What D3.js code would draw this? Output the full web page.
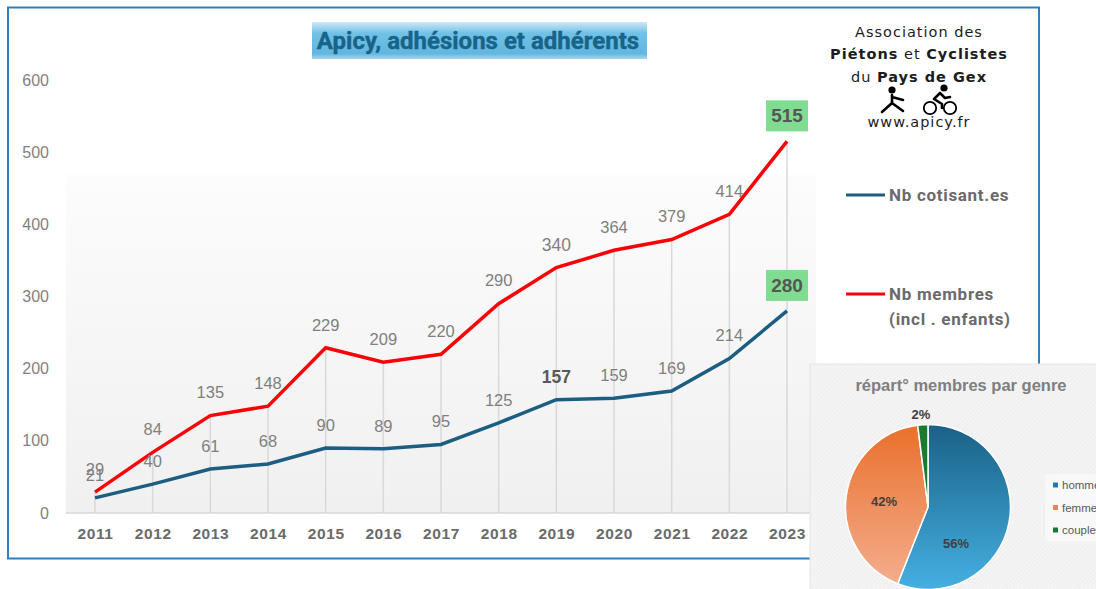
<!DOCTYPE html>
<html>
<head>
<meta charset="utf-8">
<script src="https://cdn.jsdelivr.net/npm/d3@7"></script>
<style>
html, body { margin: 0; padding: 0; background: #fff; overflow: hidden; }
svg { display: block; }
text { font-family: "Liberation Sans", sans-serif; }
</style>
</head>
<body>
<svg id="chart" width="1096" height="589"></svg>
<script>
const years = [2011, 2012, 2013, 2014, 2015, 2016, 2017, 2018, 2019, 2020, 2021, 2022, 2023]
const cotisants = [21, 40, 61, 68, 90, 89, 95, 125, 157, 159, 169, 214, 280]
const membres = [29, 84, 135, 148, 229, 209, 220, 290, 340, 364, 379, 414, 515]
const yTicks = [0, 100, 200, 300, 400, 500, 600]

const genres = ["hommes", "femmes", "couples"]
const genreValues = [56, 42, 2]

const blue = "#1b5e82"
const red = "#fb0007"
const grey = "#7f7f7f"

const svg = d3.select("#chart")
const defs = svg.append("defs")

function vGrad(id, stops) {
    const g = defs.append("linearGradient").attr("id", id)
        .attr("x1", 0).attr("y1", 0).attr("x2", 0).attr("y2", 1)
    stops.forEach(s => g.append("stop").attr("offset", s[0]).attr("stop-color", s[1]))
}
vGrad("plotBg", [[0, "#fcfcfc"], [1, "#f0f0f0"]])
vGrad("titleBg", [[0, "#cfe8f5"], [0.3, "#72c1e6"], [0.85, "#62b6df"], [1, "#a5d5ee"]])
vGrad("pie0", [[0, "#1a6186"], [1, "#45b0e2"]])
vGrad("pie1", [[0, "#e9702c"], [1, "#f4ad8e"]])
vGrad("pie2", [[0, "#1a7a30"], [1, "#1a7a30"]])

const hatch = defs.append("pattern").attr("id", "hatch")
    .attr("width", 3).attr("height", 3)
    .attr("patternUnits", "userSpaceOnUse")
    .attr("patternTransform", "rotate(45)")
hatch.append("rect").attr("width", 3).attr("height", 3).attr("fill", "#f4f4f4")
hatch.append("line").attr("x1", 0).attr("y1", 0).attr("x2", 0).attr("y2", 3)
    .attr("stroke", "#e9e9e9").attr("stroke-width", 1)

// frame
svg.append("rect")
    .attr("x", 8).attr("y", 7.5).attr("width", 1031).attr("height", 551)
    .attr("fill", "#fff").attr("stroke", "#2e7fc0").attr("stroke-width", 2)

// plot background
svg.append("rect")
    .attr("x", 66).attr("y", 175).attr("width", 750).attr("height", 338)
    .attr("fill", "url(#plotBg)")

const x = d3.scalePoint().domain(years).range([95, 787])
const y = d3.scaleLinear().domain([0, 600]).range([513, 80])

svg.append("line")
    .attr("x1", 66).attr("x2", 816).attr("y1", y(0)).attr("y2", y(0))
    .attr("stroke", "#d9d9d9").attr("stroke-width", 1.5)

// drop lines
svg.selectAll(".drop")
    .data(years)
    .enter()
    .append("line")
    .attr("class", "drop")
    .attr("x1", d => x(d)).attr("x2", d => x(d))
    .attr("y1", (d, i) => y(membres[i])).attr("y2", y(0))
    .attr("stroke", "#d9d9d9").attr("stroke-width", 1.5)

// axes
const yAxis = svg.append("g")
    .attr("transform", "translate(49,0)")
    .call(d3.axisLeft(y).tickValues(yTicks).tickSize(0).tickPadding(0))
yAxis.select(".domain").remove()
yAxis.selectAll("text")
    .style("font-family", "'Liberation Sans', sans-serif")
    .style("font-size", "16px").attr("fill", grey)

const xAxis = svg.append("g")
    .attr("transform", "translate(0,528)")
    .call(d3.axisBottom(x).tickFormat(d3.format("d")).tickSize(0).tickPadding(0))
xAxis.select(".domain").remove()
xAxis.selectAll("text")
    .style("font-family", "'Liberation Sans', sans-serif")
    .style("font-size", "15.5px").style("font-weight", "bold")
    .style("letter-spacing", "0.6px")
    .attr("fill", "#6a6a6a")

// lines
const line = d3.line().x((d, i) => x(years[i])).y(d => y(d))
svg.append("path").datum(membres).attr("d", line)
    .attr("fill", "none").attr("stroke", red).attr("stroke-width", 3.5)
svg.append("path").datum(cotisants).attr("d", line)
    .attr("fill", "none").attr("stroke", blue).attr("stroke-width", 3.5)

// value labels
function labels(values) {
    svg.append("g").selectAll("text")
        .data(values.slice(0, -1))
        .enter()
        .append("text")
        .attr("x", (d, i) => x(years[i]))
        .attr("y", d => y(d) - 23)
        .attr("dy", "0.35em")
        .attr("text-anchor", "middle")
        .attr("font-size", d => d == 340 || d == 157 ? 17.5 : 16.5)
        .attr("font-weight", d => d == 157 ? "bold" : "normal")
        .attr("fill", d => d == 157 ? "#595959" : grey)
        .text(d => d)
}
labels(cotisants)
labels(membres)

// last points in green boxes
;[membres, cotisants].forEach(values => {
    const v = values[values.length - 1]
    const cy = y(v) - 25.5
    svg.append("rect")
        .attr("x", x(2023) - 21).attr("y", cy - 15.5)
        .attr("width", 42).attr("height", 31)
        .attr("fill", "#7fdc90")
    svg.append("text")
        .attr("x", x(2023)).attr("y", cy).attr("dy", "0.35em")
        .attr("text-anchor", "middle")
        .attr("font-size", 19).attr("font-weight", "bold").attr("fill", "#565656")
        .text(v)
})

// title
svg.append("rect")
    .attr("x", 312).attr("y", 22).attr("width", 335).attr("height", 37)
    .attr("fill", "url(#titleBg)")
svg.append("text")
    .attr("x", 478).attr("y", 40.5).attr("dy", "0.35em")
    .attr("text-anchor", "middle")
    .attr("font-size", 24).attr("font-weight", "bold")
    .style("font-family", "Roboto, sans-serif")
    .attr("fill", "#17648a").attr("stroke", "#17648a").attr("stroke-width", 0.4)
    .text("Apicy, adhésions et adhérents")

// logo block
const logo = svg.append("g").attr("text-anchor", "middle").attr("fill", "#1c1c1c")
    .style("font-size", "14.5px").style("letter-spacing", "1px")
function logoLine(cy, parts, cx) {
    const t = logo.append("text").attr("x", cx).attr("y", cy).attr("dy", "0.35em")
        .style("font-family", "'DejaVu Sans', sans-serif")
    parts.forEach(p => t.append("tspan")
        .style("font-family", "'DejaVu Sans', sans-serif")
        .attr("font-weight", p[1] ? "bold" : "normal").text(p[0]))
}
logoLine(31.5, [["Association des", 0]], 919)
logoLine(54, [["Piétons", 1], [" et ", 0], ["Cyclistes", 1]], 919)
logoLine(77, [["du ", 0], ["Pays de Gex", 1]], 919)
logoLine(122, [["www.apicy.fr", 0]], 919)

// walker
const icons = svg.append("g").attr("fill", "none").attr("stroke", "#000")
    .attr("stroke-width", 2.6).attr("stroke-linecap", "round").attr("stroke-linejoin", "round")
icons.append("circle").attr("cx", 892).attr("cy", 90).attr("r", 3.6).attr("fill", "#000").attr("stroke", "none")
icons.append("path").attr("d", "M892 95 L892 103 M892 97 L903 100 M892 103 L882 112 M892 103 L903 111")
// cyclist
icons.append("circle").attr("cx", 944).attr("cy", 88).attr("r", 3.6).attr("fill", "#000").attr("stroke", "none")
icons.append("circle").attr("cx", 930).attr("cy", 108).attr("r", 6.2).attr("stroke-width", 1.8)
icons.append("circle").attr("cx", 950).attr("cy", 108).attr("r", 6.2).attr("stroke-width", 1.8)
icons.append("path").attr("d", "M940 93 L934 99 L942 104 L942 108 M940 93 L945 98 L950 97")

// legend
const legend = [
    { y: 195, color: blue, rows: ["Nb cotisant.es"] },
    { y: 294, color: red, rows: ["Nb membres", "(incl . enfants)"] }
]
legend.forEach(l => {
    svg.append("line").attr("x1", 846).attr("x2", 885).attr("y1", l.y).attr("y2", l.y)
        .attr("stroke", l.color).attr("stroke-width", 3)
    l.rows.forEach((r, i) => {
        svg.append("text")
            .attr("x", 889).attr("y", l.y + i * 25.5).attr("dy", "0.35em")
            .attr("font-size", 17).attr("font-weight", "bold")
            .style("font-family", "Roboto, sans-serif")
            .style("letter-spacing", "0.7px")
            .attr("fill", "#6a6a6a")
            .text(r)
    })
})

// pie panel
svg.append("rect")
    .attr("x", 810).attr("y", 364).attr("width", 287).attr("height", 226)
    .attr("fill", "url(#hatch)").attr("stroke", "#e4e4e4")
svg.append("text")
    .attr("x", 961).attr("y", 385.5).attr("dy", "0.35em")
    .attr("text-anchor", "middle")
    .attr("font-size", 16.5).attr("font-weight", "bold").attr("fill", grey)
    .text("répart° membres par genre")

const pie = d3.pie().sort(null)(genreValues)
const arc = d3.arc().innerRadius(0).outerRadius(82.5)
const pieG = svg.append("g").attr("transform", "translate(928,507)")
pieG.selectAll("path")
    .data(pie)
    .enter()
    .append("path")
    .attr("d", arc)
    .attr("fill", (d, i) => "url(#pie" + i + ")")
    .attr("stroke", "#fff").attr("stroke-width", 1.5)

// label spots as placed by hand in the original pie
const labelSpots = [[28, 36], [-44, -6], [-7, -93]]
pieG.selectAll("text")
    .data(pie)
    .enter()
    .append("text")
    .attr("transform", (d, i) => "translate(" + labelSpots[i] + ")")
    .attr("dy", "0.35em")
    .attr("text-anchor", "middle")
    .attr("font-size", 13).attr("font-weight", "bold").attr("fill", "#404040")
    .text(d => d.data + "%")

// pie legend, cut by the window edge as in the picture
const pieColors = ["#1f7ba8", "#ec8551", "#1a7a30"]
svg.append("rect").attr("x", 1045).attr("y", 474).attr("width", 52).attr("height", 67).attr("fill", "#f8f8f8")
genres.forEach((g, i) => {
    const ly = 485 + i * 22.5
    svg.append("rect").attr("x", 1053).attr("y", ly - 2.5).attr("width", 5).attr("height", 5).attr("fill", pieColors[i])
    svg.append("text").attr("x", 1062).attr("y", ly).attr("dy", "0.35em")
        .attr("font-size", 11.5).attr("fill", "#595959").text(g)
})
</script>
</body>
</html>
